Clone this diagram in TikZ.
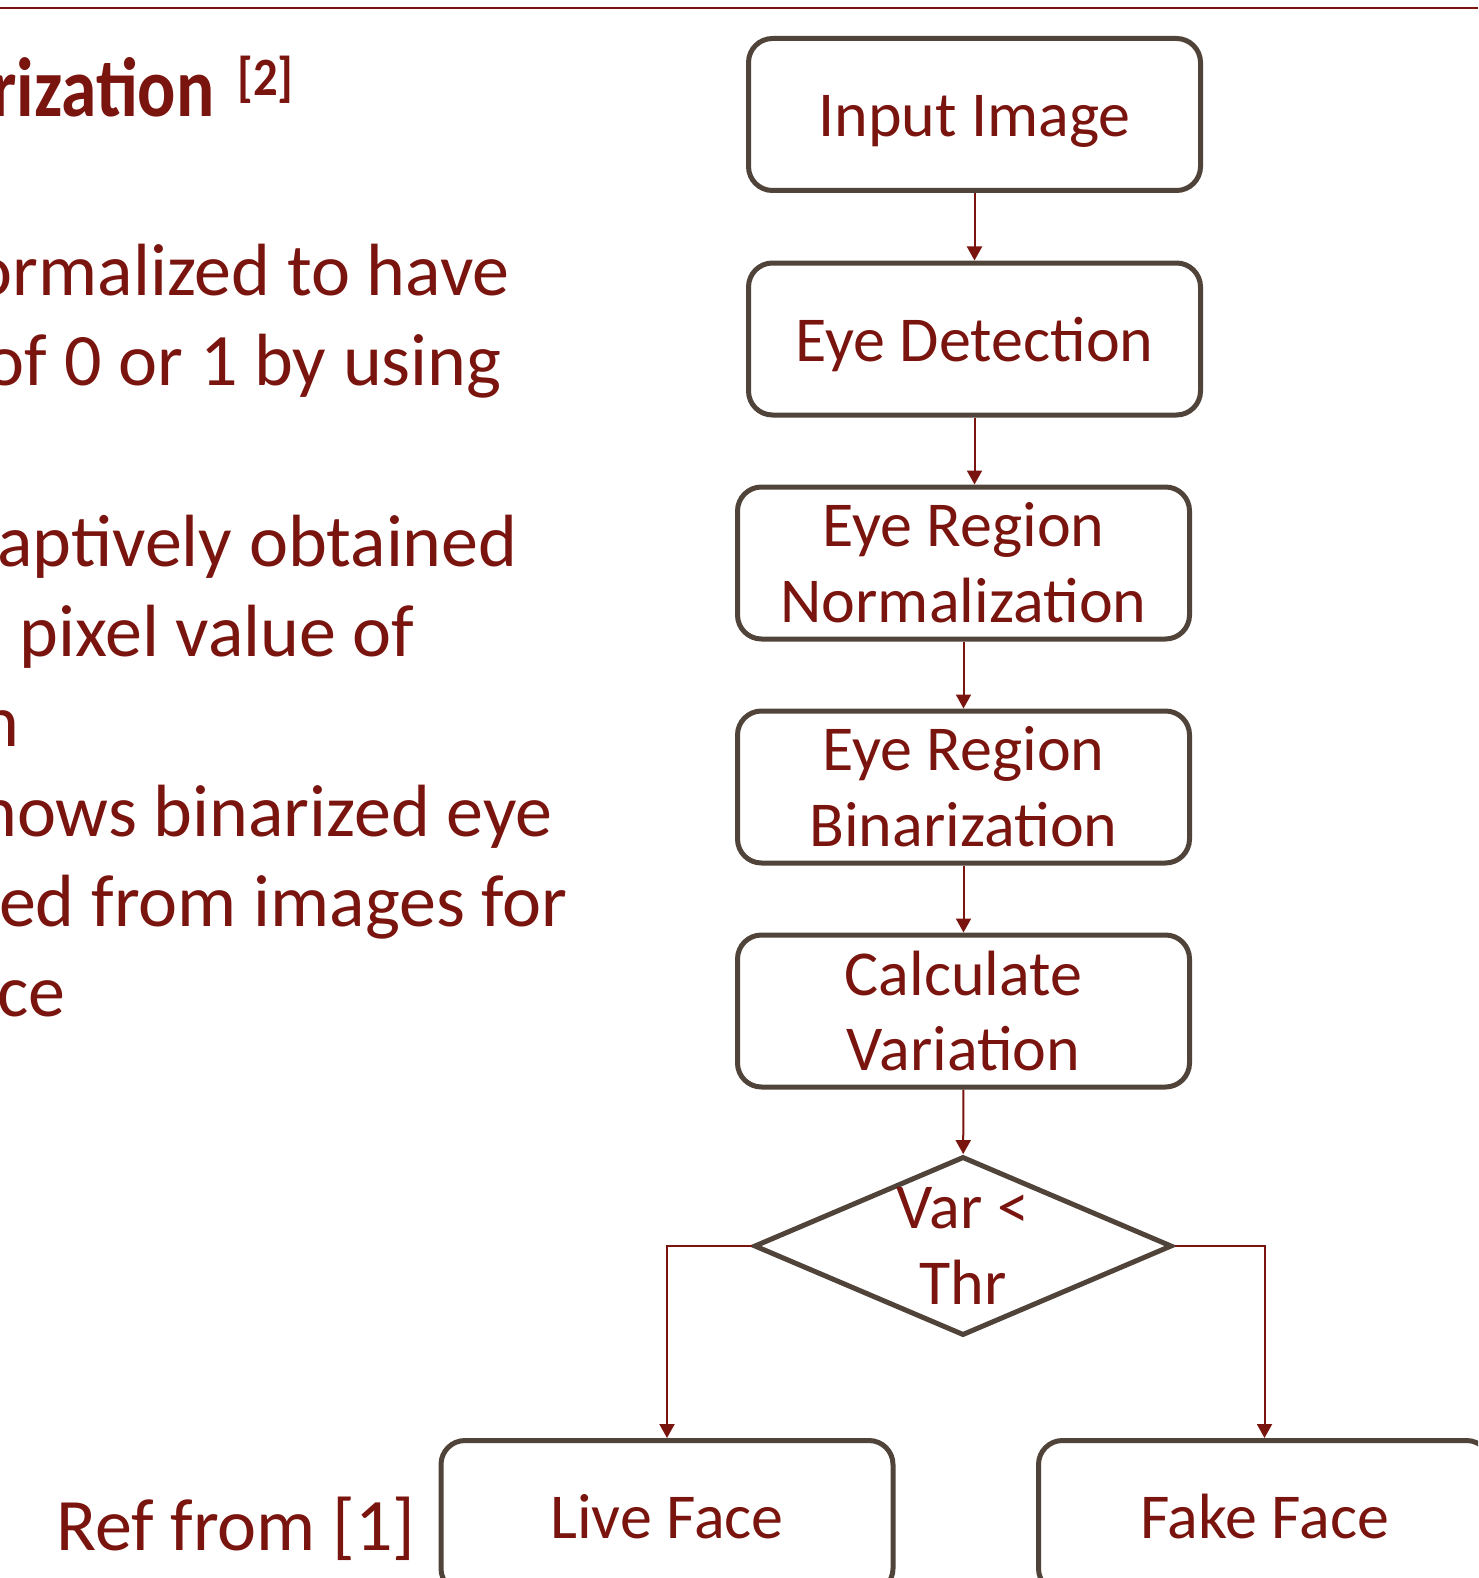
\documentclass[tikz,border=0pt]{standalone}
\usepackage{fontspec}
\usepackage{graphicx}
\setmainfont{Carlito}
\usetikzlibrary{shapes.geometric,arrows.meta}
\definecolor{txtred}{RGB}{122,20,14}
\definecolor{boxline}{RGB}{80,67,57}
\begin{document}
\begin{tikzpicture}[x=0.5pt,y=-0.5pt,
  flowbox/.style={rectangle, draw=boxline, line width=2.5pt, rounded corners=12pt,
    minimum width=226pt, minimum height=76pt, inner sep=0pt, align=center,
    text=txtred, font=\fontsize{32}{37.8}\selectfont},
  onebox/.style={flowbox, text height=22pt, text depth=0pt},
  decide/.style={diamond, draw=boxline, line width=2.5pt, aspect=2.335,
    minimum width=209pt, minimum height=89.5pt, inner sep=0pt, align=center,
    text=txtred, font=\fontsize{32}{37.8}\selectfont},
  flow/.style={draw=txtred, line width=1pt, -{Triangle[length=7pt,width=7.5pt]}},
  body/.style={anchor=base east, inner sep=0pt, text=txtred,
    font=\fontsize{37}{44}\selectfont}
]
\useasboundingbox (0,0) rectangle (1478,1578);
\clip (0,0) rectangle (1478,1578);

% rule across the top
\draw[txtred, line width=1pt] (0,8) -- (1478,8);

% heading
\node[anchor=base east, inner sep=0pt, text=txtred] (title) at (215,117)
  {\scalebox{0.85}[1]{\fontsize{42}{50}\selectfont\bfseries rization}};
\node[anchor=base west, inner sep=0pt, text=txtred] (titleref) at (237,96)
  {\scalebox{0.9}[1]{\fontsize{27}{32}\selectfont\bfseries [2]}};

% body text
\node[body] (l1) at (510,295) {ormalized to have};
\node[body] (l2) at (502,385) {of 0 or 1 by using};
\node[body] (l3) at (518,566) {aptively obtained};
\node[body] (l4) at (415,656) {pixel value of};
\node[body] (l5) at (20,746) {n};
\node[body] (l6) at (553,836) {hows binarized eye};
\node[body] (l7) at (568,926) {ed from images for};
\node[body] (l8) at (66,1016) {ce};
\node[body] (ref) at (416,1550) {Ref from [1]};

% flowchart
\node[onebox]  (input) at (974.5,114.5) {Input Image};
\node[onebox]  (eyedet) at (974.5,339) {Eye Detection};
\node[flowbox] (norm) at (963.5,563) {Eye Region\\Normalization};
\node[flowbox] (bin) at (963.5,787) {Eye Region\\Binarization};
\node[flowbox] (calc) at (963.5,1011) {Calculate\\Variation};
\node[decide]  (test) at (963,1246) {Var <\\Thr};
\node[onebox]  (live) at (667,1516.5) {Live Face};
\node[onebox]  (fake) at (1264.5,1516.5) {Fake Face};

\draw[flow] (input) -- (eyedet);
\draw[flow] (eyedet.south) -- (eyedet.south |- norm.north);
\draw[flow] (norm) -- (bin);
\draw[flow] (bin) -- (calc);
\draw[flow] (calc) -- (test);
\draw[flow] (test.west) -| (live.north);
\draw[flow] (test.east) -| (fake.north);
\end{tikzpicture}
\end{document}
